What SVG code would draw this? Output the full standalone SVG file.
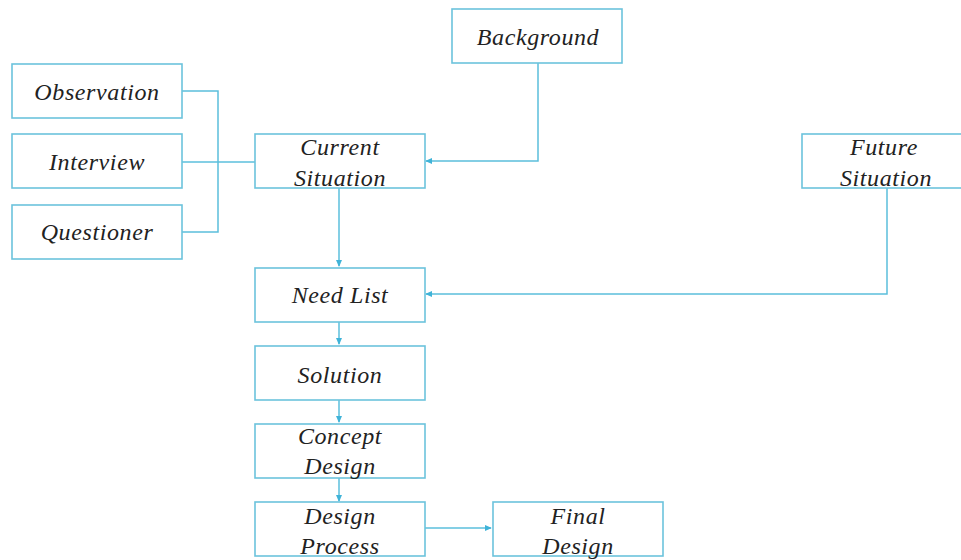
<svg xmlns="http://www.w3.org/2000/svg" width="961" height="560" viewBox="0 0 961 560">
<defs>
<style>
.box{fill:#fff;stroke:#6cc3dc;stroke-width:1.6}
.t{font-family:"Liberation Serif","Times New Roman",serif;font-style:italic;font-size:24px;letter-spacing:0.6px;fill:#222;text-anchor:middle}
.c{fill:none;stroke:#5bbfdc;stroke-width:1.5}
</style>
<marker id="ah" viewBox="0 0 8 8" refX="7" refY="4" markerWidth="7" markerHeight="7" markerUnits="userSpaceOnUse" orient="auto">
<path d="M0,0.5 L8,4 L0,7.5 Z" fill="#3fb3d8"/>
</marker>
</defs>
<rect width="961" height="560" fill="#fff"/>
<g id="connectors">
<polyline class="c" points="182,91 218,91 218,232 182,232"/>
<line class="c" x1="182" y1="162" x2="255" y2="162"/>
<polyline class="c" points="538,63 538,161 426,161" marker-end="url(#ah)"/>
<line class="c" x1="339" y1="188" x2="339" y2="266" marker-end="url(#ah)"/>
<polyline class="c" points="887,188 887,294 426,294" marker-end="url(#ah)"/>
<line class="c" x1="339" y1="322" x2="339" y2="344" marker-end="url(#ah)"/>
<line class="c" x1="339" y1="400" x2="339" y2="422" marker-end="url(#ah)"/>
<line class="c" x1="339" y1="478" x2="339" y2="501" marker-end="url(#ah)"/>
<line class="c" x1="425" y1="528" x2="491" y2="528" marker-end="url(#ah)"/>
</g>
<g id="observation"><rect class="box" x="12" y="64" width="170" height="54"/><text class="t" x="97" y="100">Observation</text></g>
<g id="interview"><rect class="box" x="12" y="134" width="170" height="54"/><text class="t" x="97" y="170">Interview</text></g>
<g id="questioner"><rect class="box" x="12" y="205" width="170" height="54"/><text class="t" x="97" y="240">Questioner</text></g>
<g id="background"><rect class="box" x="452" y="9" width="170" height="54"/><text class="t" x="538" y="45">Background</text></g>
<g id="current-situation"><rect class="box" x="255" y="134" width="170" height="54"/><text class="t" x="340" y="155">Current</text><text class="t" x="340" y="186">Situation</text></g>
<g id="future-situation"><rect class="box" x="802" y="134" width="170" height="54"/><text class="t" x="884" y="155">Future</text><text class="t" x="886" y="186">Situation</text></g>
<g id="need-list"><rect class="box" x="255" y="268" width="170" height="54"/><text class="t" x="340" y="303">Need List</text></g>
<g id="solution"><rect class="box" x="255" y="346" width="170" height="54"/><text class="t" x="340" y="383">Solution</text></g>
<g id="concept-design"><rect class="box" x="255" y="424" width="170" height="54"/><text class="t" x="340" y="444">Concept</text><text class="t" x="340" y="474">Design</text></g>
<g id="design-process"><rect class="box" x="255" y="502" width="170" height="54"/><text class="t" x="340" y="524">Design</text><text class="t" x="340" y="554">Process</text></g>
<g id="final-design"><rect class="box" x="493" y="502" width="170" height="54"/><text class="t" x="578" y="524">Final</text><text class="t" x="578" y="554">Design</text></g>
</svg>
